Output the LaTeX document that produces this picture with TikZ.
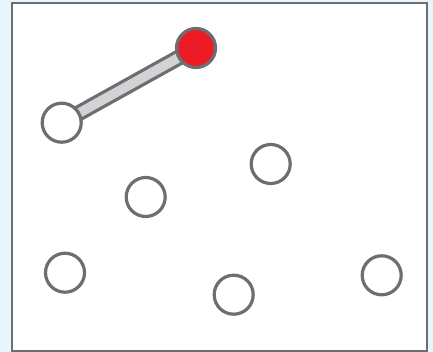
\documentclass[tikz,border=0pt]{standalone}
\usetikzlibrary{backgrounds}
\definecolor{bgblue}{HTML}{E9F5FD}
\definecolor{strokegray}{HTML}{6D6E71}
\definecolor{barfill}{HTML}{D1D3D4}
\definecolor{dotred}{HTML}{ED1C24}
\begin{document}
\begin{tikzpicture}[x=1pt,y=-1pt,
  dot/.style={circle,draw=strokegray,line width=3.2pt,fill=white,minimum size=39pt,inner sep=0pt},
  reddot/.style={dot,fill=dotred},
  barout/.style={draw=strokegray,line width=16pt},
  barin/.style={draw=barfill,line width=9.5pt}]
\useasboundingbox (0,0) rectangle (433,352);
\node[reddot] (r) at (196,48) {};
\node[dot] (a) at (61.7,122.7) {};
\node[dot] (b) at (270.7,164) {};
\node[dot] (c) at (145.7,197) {};
\node[dot] (d) at (65,272.7) {};
\node[dot] (e) at (233.7,294.7) {};
\node[dot] (f) at (381.7,275.3) {};
\begin{pgfonlayer}{background}
\fill[bgblue] (0,0) rectangle (433,352);
\draw[strokegray,fill=white,line width=2pt] (12,3.5) rectangle (427,351);
\draw[barout] (a.center) -- (r.center);
\draw[barin] (a.center) -- (r.center);
\end{pgfonlayer}
\end{tikzpicture}
\end{document}
